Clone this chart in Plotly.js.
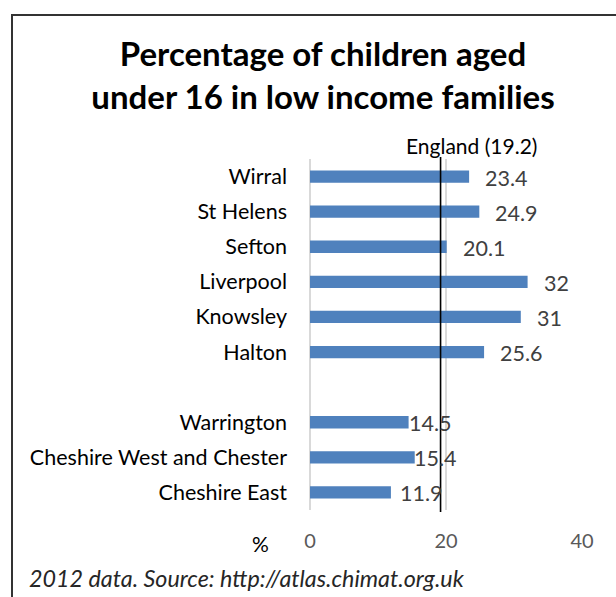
<!DOCTYPE html>
<html>
<head>
<meta charset="utf-8">
<script src="https://cdn.plot.ly/plotly-3.0.1.min.js"></script>
<style>html,body{margin:0;padding:0;background:#fff;}#chart{width:616px;height:597px;}</style>
</head>
<body>
<div id="chart"></div>
<script>
// Data
const categories = ["Wirral", "St Helens", "Sefton", "Liverpool", "Knowsley", "Halton", " ", "Warrington", "Cheshire West and Chester", "Cheshire East"];
const values = [23.4, 24.9, 20.1, 32, 31, 25.6, null, 14.5, 15.4, 11.9];
const valueLabels = ["23.4", "24.9", "20.1", "32", "31", "25.6", "", "14.5", "15.4", "11.9"];
const englandValue = 19.2;
const englandLabel = "England (19.2)";
const xTicks = [0, 20, 40];
const titleText = "Percentage of children aged<br>under 16 in low income families";
const axisLabel = "%";
const footnote = "2012 data. Source: http://atlas.chimat.org.uk";

// Label offsets (style, px)
const labelShift = [16, 16, 16, 16, 16, 16, 0, 0, -1, 9];

const W = 616, H = 597;
const M = {l: 310, r: 34, t: 159, b: 87};
const pw = W - M.l - M.r, ph = H - M.t - M.b;
const px = x => (x - M.l) / pw;
const py = y => (H - M.b - y) / ph;

const FONT = "Lato, 'Open Sans', sans-serif";

const annotations = [];
categories.forEach((c, i) => {
  if (values[i] === null) return;
  annotations.push({
    x: values[i], y: c, xref: 'x', yref: 'y',
    text: valueLabels[i], showarrow: false,
    xanchor: 'left', yanchor: 'middle', xshift: labelShift[i] - 2, yshift: -1,
    font: {family: FONT, size: 21.5, color: '#404040'}
  });
});
annotations.push({
  x: englandValue, y: py(145), xref: 'x', yref: 'paper',
  text: englandLabel, showarrow: false, xanchor: 'center', yanchor: 'middle', xshift: 31,
  font: {family: FONT, size: 21, color: '#000'}
});
annotations.push({
  x: px(260), y: py(543), xref: 'paper', yref: 'paper',
  text: axisLabel, showarrow: false, xanchor: 'center', yanchor: 'middle',
  font: {family: FONT, size: 21, color: '#000'}
});
annotations.push({
  x: px(27), y: py(578), xref: 'paper', yref: 'paper',
  text: "<i>" + footnote + "</i>", showarrow: false, xanchor: 'left', yanchor: 'middle',
  font: {family: FONT, size: 23.3, color: '#262626'}
});

const trace = {
  type: 'bar', orientation: 'h',
  x: values, y: categories,
  marker: {color: '#4F81BD', line: {width: 0}},
  width: 0.35,
  hoverinfo: 'none'
};

const layout = {
  width: W, height: H,
  margin: M,
  paper_bgcolor: '#fff', plot_bgcolor: '#fff',
  showlegend: false,
  title: {
    text: "<b>" + titleText + "</b>",
    x: px(323), xref: 'paper', xanchor: 'center',
    y: 1 - 66 / H, yref: 'container', yanchor: 'middle',
    font: {family: FONT, size: 33, color: '#000'}
  },
  xaxis: {
    range: [0, 40], tickvals: xTicks, ticktext: xTicks.map(String),
    showgrid: true, gridcolor: '#d9d9d9', gridwidth: 1.3,
    zeroline: true, zerolinecolor: '#d9d9d9', zerolinewidth: 1.3,
    showline: false, ticks: '',
    tickfont: {family: FONT, size: 20, color: '#595959'},
    ticklabelstandoff: 17, fixedrange: true
  },
  yaxis: {
    type: 'category', categoryorder: 'array', categoryarray: categories,
    autorange: 'reversed',
    showgrid: false, zeroline: false, showline: false, ticks: '',
    tickfont: {family: FONT, size: 21.5, color: '#000'},
    ticklabelstandoff: 22, fixedrange: true
  },
  shapes: [
    {type: 'line', xref: 'x', yref: 'paper', x0: englandValue, x1: englandValue,
     y0: py(512), y1: py(157), line: {color: '#000', width: 1.6}},
    {type: 'path', xref: 'paper', yref: 'paper',
     path: `M ${px(12)} ${py(H + 2)} L ${px(12)} ${py(15)} L ${px(W + 2)} ${py(15)}`,
     line: {color: '#333', width: 2}}
  ],
  annotations: annotations
};

Plotly.newPlot('chart', [trace], layout, {displayModeBar: false, staticPlot: true});
</script>
</body>
</html>
